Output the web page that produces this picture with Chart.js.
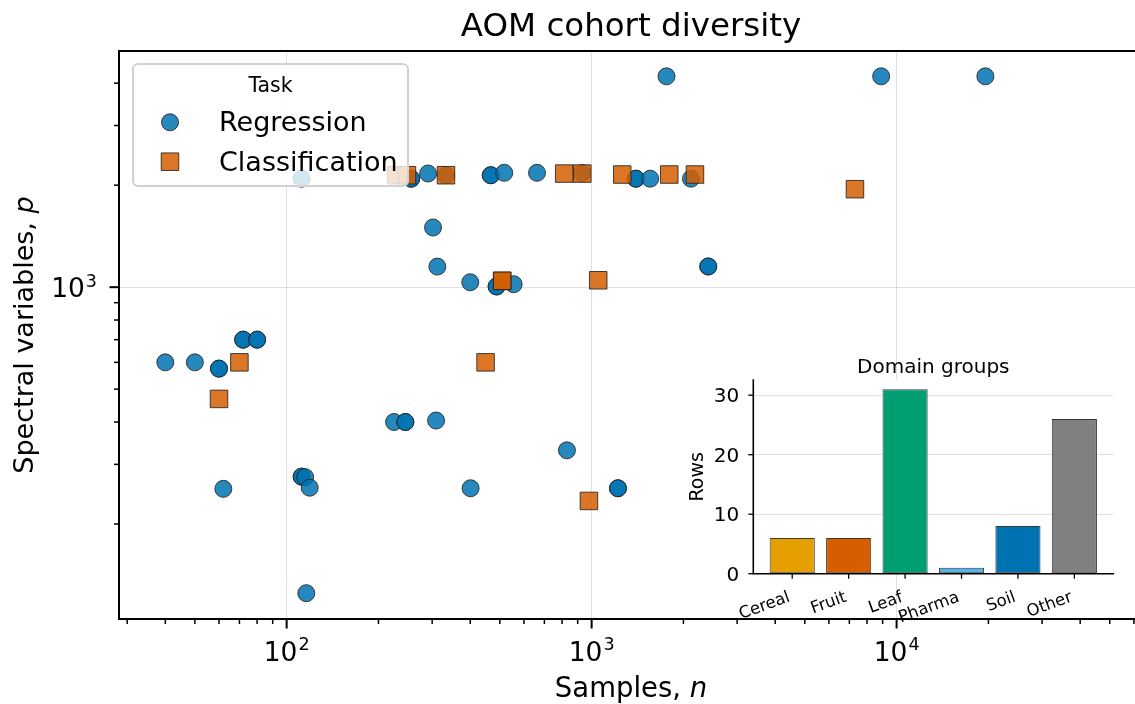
<!DOCTYPE html>
<html>
<head>
<meta charset="utf-8">
<title>AOM cohort diversity</title>
<script src="https://cdn.jsdelivr.net/npm/chart.js@4.4.1/dist/chart.umd.min.js"></script>
<style>
  html, body { margin: 0; padding: 0; background: #fff; overflow: hidden; }
  #wrap { position: relative; width: 1135px; height: 704px; overflow: hidden; }
  #main { position: absolute; left: 0; top: 0; }
  #inset { position: absolute; left: 640px; top: 340px; }
</style>
</head>
<body>
<div id="wrap">
  <canvas id="main" width="1145" height="704"></canvas>
  <canvas id="inset" width="495" height="290"></canvas>
</div>
<script>
// ---- cohort data: samples n and spectral variables p per dataset ----
const regressionN = [40, 50, 60, 60, 72, 72, 80, 80, 62, 112, 112, 115, 119, 116,
  225, 245, 245, 309, 830, 1220, 1220, 401,
  112, 256, 256, 291, 333, 467, 467, 517, 662, 930, 1397, 1397, 1556, 2117,
  302, 312, 400, 488, 488, 555, 2412, 2412, 1760, 8900, 19550];
const regressionP = [600, 600, 575, 575, 700, 700, 700, 700, 254, 276, 276, 275, 256, 125,
  400, 400, 400, 404, 330, 255, 255, 255,
  2090, 2090, 2090, 2165, 2140, 2140, 2140, 2175, 2175, 2170, 2090, 2090, 2090, 2090,
  1500, 1150, 1034, 1005, 1005, 1020, 1151, 1151, 4190, 4190, 4190];
const classificationN = [70, 60, 229, 248, 333, 813, 932, 1260, 1797, 2182, 7303, 509, 509, 1051, 449, 980];
const classificationP = [600, 468, 2140, 2140, 2140, 2164, 2164, 2150, 2150, 2150, 1946, 1044, 1044, 1048, 600, 234];

// ---- domain group counts ----
const domains = ['Cereal', 'Fruit', 'Leaf', 'Pharma', 'Soil', 'Other'];
const domainRows = [6, 6, 31, 1, 8, 26];
const domainColors = ['#E69F00', '#D55E00', '#009E73', '#56B4E9', '#0072B2', '#808080'];

// ---- tick values and labels ----
const xMajorTicks = [100, 1000, 10000];
const xTickExp = ['2', '3', '4'];
const xMinorTicks = [30, 40, 50, 60, 70, 80, 90, 200, 300, 400, 500, 600, 700, 800, 900,
  2000, 3000, 4000, 5000, 6000, 7000, 8000, 9000, 20000, 30000, 40000, 50000, 60000];
const yMajorTicks = [1000];
const yTickExp = ['3'];
const yMinorTicks = [200, 300, 400, 500, 600, 700, 800, 900, 2000, 3000, 4000];
const insetTicks = [0, 10, 20, 30];

const FAM = '"DejaVu Sans", "Liberation Sans", sans-serif';
const fnt = (size, style) => (style || 'normal') + ' ' + size + 'px ' + FAM;
const GRID = 'rgba(0,0,0,0.12)';

// "10" with a raised exponent
function drawPow(ctx, base, exp, x, y, align) {
  const bs = 26.5, es = 17.5, rise = 10.6;
  ctx.font = fnt(bs); const wb = ctx.measureText(base).width;
  ctx.font = fnt(es); const we = ctx.measureText(exp).width;
  const total = wb + 1 + we;
  const x0 = align === 'center' ? x - total / 2 : (align === 'right' ? x - total : x);
  ctx.textAlign = 'left'; ctx.textBaseline = 'alphabetic'; ctx.fillStyle = '#000';
  ctx.font = fnt(bs); ctx.fillText(base, x0, y);
  ctx.font = fnt(es); ctx.fillText(exp, x0 + wb + 1, y - rise);
}

// text made of an upright part and an italic symbol, centred on x
function drawMixed(ctx, upright, symbol, x, y, size) {
  ctx.font = fnt(size); const w1 = ctx.measureText(upright).width;
  ctx.font = fnt(size, 'italic'); const w2 = ctx.measureText(symbol).width;
  const x0 = x - (w1 + w2) / 2;
  ctx.textAlign = 'left'; ctx.textBaseline = 'alphabetic'; ctx.fillStyle = '#000';
  ctx.font = fnt(size); ctx.fillText(upright, x0, y);
  ctx.font = fnt(size, 'italic'); ctx.fillText(symbol, x0 + w1, y);
}

function roundRectPath(ctx, x, y, w, h, r) {
  ctx.beginPath();
  ctx.moveTo(x + r, y);
  ctx.lineTo(x + w - r, y); ctx.arcTo(x + w, y, x + w, y + r, r);
  ctx.lineTo(x + w, y + h - r); ctx.arcTo(x + w, y + h, x + w - r, y + h, r);
  ctx.lineTo(x + r, y + h); ctx.arcTo(x, y + h, x, y + h - r, r);
  ctx.lineTo(x, y + r); ctx.arcTo(x, y, x + r, y, r);
  ctx.closePath();
}

function drawMarker(ctx, ds, cx, cy) {
  ctx.fillStyle = ds.backgroundColor;
  ctx.strokeStyle = ds.borderColor;
  ctx.lineWidth = ds.borderWidth;
  ctx.beginPath();
  if (ds.pointStyle === 'rect') {
    const h = Math.SQRT1_2 * ds.pointRadius;
    ctx.rect(cx - h, cy - h, 2 * h, 2 * h);
  } else {
    ctx.arc(cx, cy, ds.pointRadius, 0, Math.PI * 2);
  }
  ctx.fill(); ctx.stroke();
}

// legend, spines, ticks and labels of the scatter axes
const scatterDecor = {
  id: 'scatterDecor',
  afterDraw(chart) {
    const ctx = chart.ctx, a = chart.chartArea;
    const sx = chart.scales.x, sy = chart.scales.y;
    ctx.save();

    // legend box
    const lx = 133, ly = 64, lw = 275, lh = 122;
    roundRectPath(ctx, lx, ly, lw, lh, 5);
    ctx.fillStyle = 'rgba(255,255,255,0.8)'; ctx.fill();
    ctx.strokeStyle = '#d2d2d2'; ctx.lineWidth = 2; ctx.stroke();
    ctx.fillStyle = '#000'; ctx.textAlign = 'center'; ctx.textBaseline = 'alphabetic';
    ctx.font = fnt(20.5); ctx.fillText('Task', lx + lw / 2, ly + 27.5);
    const rows = [122.3, 161.7];
    chart.data.datasets.forEach((ds, i) => {
      drawMarker(ctx, ds, 170, rows[i]);
      ctx.fillStyle = '#000'; ctx.textAlign = 'left'; ctx.font = fnt(27);
      ctx.fillText(ds.label, 219, rows[i] + 9);
    });

    // spines (left, top, bottom)
    ctx.strokeStyle = '#000'; ctx.lineWidth = 2; ctx.lineCap = 'square';
    ctx.beginPath();
    ctx.moveTo(a.left, a.bottom); ctx.lineTo(a.left, a.top); ctx.lineTo(a.right, a.top);
    ctx.moveTo(a.left, a.bottom); ctx.lineTo(a.right, a.bottom);
    ctx.stroke();
    ctx.lineCap = 'butt';

    // x ticks
    const tick = (x1, y1, x2, y2, w) => { ctx.lineWidth = w; ctx.beginPath(); ctx.moveTo(x1, y1); ctx.lineTo(x2, y2); ctx.stroke(); };
    xMinorTicks.forEach(v => { const p = sx.getPixelForValue(v); if (p >= a.left && p <= a.right) tick(p, a.bottom, p, a.bottom + 5, 1.5); });
    xMajorTicks.forEach((v, i) => {
      const p = sx.getPixelForValue(v);
      tick(p, a.bottom, p, a.bottom + 9.5, 2);
      drawPow(ctx, '10', xTickExp[i], p, a.bottom + 42, 'center');
    });
    // y ticks
    yMinorTicks.forEach(v => { const p = sy.getPixelForValue(v); if (p >= a.top && p <= a.bottom) tick(a.left, p, a.left - 5, p, 1.5); });
    yMajorTicks.forEach((v, i) => {
      const p = sy.getPixelForValue(v);
      tick(a.left, p, a.left - 9.5, p, 2);
      drawPow(ctx, '10', yTickExp[i], a.left - 22, p + 10.3, 'right');
    });

    // title and axis labels
    const cx = (a.left + a.right) / 2;
    ctx.fillStyle = '#000'; ctx.textAlign = 'center'; ctx.textBaseline = 'alphabetic';
    ctx.font = fnt(32.5); ctx.fillText('AOM cohort diversity', cx, 35.5);
    drawMixed(ctx, 'Samples, ', 'n', cx, a.bottom + 78, 27.5);
    ctx.save();
    ctx.translate(33, (a.top + a.bottom) / 2);
    ctx.rotate(-Math.PI / 2);
    drawMixed(ctx, 'Spectral variables, ', 'p', 0, 0, 27);
    ctx.restore();

    ctx.restore();
  }
};

new Chart(document.getElementById('main'), {
  type: 'scatter',
  data: {
    datasets: [
      {
        label: 'Regression',
        data: regressionN.map((n, i) => ({ x: n, y: regressionP[i] })),
        pointStyle: 'circle',
        pointRadius: 8.5, pointHoverRadius: 8.5,
        backgroundColor: 'rgba(1,115,178,0.85)',
        borderColor: 'rgba(35,35,35,0.85)',
        borderWidth: 1,
        order: 2
      },
      {
        label: 'Classification',
        data: classificationN.map((n, i) => ({ x: n, y: classificationP[i] })),
        pointStyle: 'rect',
        pointRadius: 12.4, pointHoverRadius: 12.4,
        backgroundColor: 'rgba(213,94,0,0.85)',
        borderColor: 'rgba(35,35,35,0.85)',
        borderWidth: 1,
        order: 1
      }
    ]
  },
  options: {
    responsive: false,
    animation: false,
    events: [],
    layout: { autoPadding: false, padding: { left: 119, top: 51, right: 2, bottom: 85 } },
    scales: {
      x: {
        type: 'logarithmic', min: 28.2, max: 64270,
        ticks: { display: false },
        grid: { color: GRID, lineWidth: 1, drawTicks: false },
        border: { display: false },
        afterBuildTicks: s => { s.ticks = xMajorTicks.map(v => ({ value: v, major: true })); }
      },
      y: {
        type: 'logarithmic', min: 104.9, max: 4977,
        ticks: { display: false },
        grid: { color: GRID, lineWidth: 1, drawTicks: false },
        border: { display: false },
        afterBuildTicks: s => { s.ticks = yMajorTicks.map(v => ({ value: v, major: true })); }
      }
    },
    plugins: { legend: { display: false }, tooltip: { enabled: false }, title: { display: false } }
  },
  plugins: [scatterDecor]
});

// ---- inset: rows per domain group ----
const insetDecor = {
  id: 'insetDecor',
  beforeDraw(chart) {
    const ctx = chart.ctx, a = chart.chartArea;
    ctx.save();
    ctx.fillStyle = '#fff';
    ctx.fillRect(a.left, a.top, a.right - a.left, a.bottom - a.top);
    ctx.restore();
  },
  afterDraw(chart) {
    const ctx = chart.ctx, a = chart.chartArea;
    const sx = chart.scales.x, sy = chart.scales.y;
    ctx.save();
    ctx.strokeStyle = '#000'; ctx.lineWidth = 1.6; ctx.lineCap = 'square';
    ctx.beginPath();
    ctx.moveTo(a.left, a.top); ctx.lineTo(a.left, a.bottom); ctx.lineTo(a.right, a.bottom);
    ctx.stroke();
    ctx.lineCap = 'butt'; ctx.lineWidth = 1.3;
    ctx.fillStyle = '#000';

    // y ticks and labels
    insetTicks.forEach(v => {
      const p = sy.getPixelForValue(v);
      ctx.beginPath(); ctx.moveTo(a.left, p); ctx.lineTo(a.left - 5, p); ctx.stroke();
      ctx.font = fnt(20); ctx.textAlign = 'right'; ctx.textBaseline = 'alphabetic';
      ctx.fillText(String(v), a.left - 14, p + 7.3);
    });

    // x ticks and rotated labels
    const th = 20 * Math.PI / 180, fs = 16.5;
    domains.forEach((d, i) => {
      const p = sx.getPixelForValue(i);
      ctx.beginPath(); ctx.moveTo(p, a.bottom); ctx.lineTo(p, a.bottom + 5); ctx.stroke();
      ctx.font = fnt(fs); ctx.textAlign = 'left'; ctx.textBaseline = 'alphabetic';
      const w = ctx.measureText(d).width, asc = 0.76 * fs, desc = 0.24 * fs;
      const ox = p - w * Math.cos(th) - desc * Math.sin(th);
      const oy = a.bottom + 15.5 + w * Math.sin(th) + asc * Math.cos(th);
      ctx.save(); ctx.translate(ox, oy); ctx.rotate(-th); ctx.fillText(d, 0, 0); ctx.restore();
    });

    // title and y label
    ctx.textAlign = 'center'; ctx.textBaseline = 'alphabetic';
    ctx.font = fnt(20); ctx.fillText('Domain groups', (a.left + a.right) / 2, a.top - 6.7);
    ctx.save();
    ctx.translate(63, (a.top + a.bottom) / 2);
    ctx.rotate(-Math.PI / 2);
    ctx.font = fnt(19); ctx.fillText('Rows', 0, 0);
    ctx.restore();
    ctx.restore();
  }
};

new Chart(document.getElementById('inset'), {
  type: 'bar',
  data: {
    datasets: [{
      data: domainRows.map((v, i) => ({ x: i, y: v })),
      backgroundColor: domainColors,
      borderColor: '#383838',
      borderWidth: 1,
      borderSkipped: false,
      categoryPercentage: 1,
      barPercentage: 0.8
    }]
  },
  options: {
    responsive: false,
    animation: false,
    events: [],
    layout: { autoPadding: false, padding: { left: 113.3, top: 40, right: 21.7, bottom: 56.3 } },
    scales: {
      x: {
        type: 'linear', min: -0.69, max: 5.69, offset: false,
        ticks: { display: false },
        grid: { display: false, drawTicks: false, offset: false },
        border: { display: false }
      },
      y: {
        type: 'linear', min: 0, max: 32.55,
        ticks: { display: false },
        grid: { color: GRID, lineWidth: 1, drawTicks: false },
        border: { display: false },
        afterBuildTicks: s => { s.ticks = insetTicks.map(v => ({ value: v })); }
      }
    },
    plugins: { legend: { display: false }, tooltip: { enabled: false } }
  },
  plugins: [insetDecor]
});
</script>
</body>
</html>
